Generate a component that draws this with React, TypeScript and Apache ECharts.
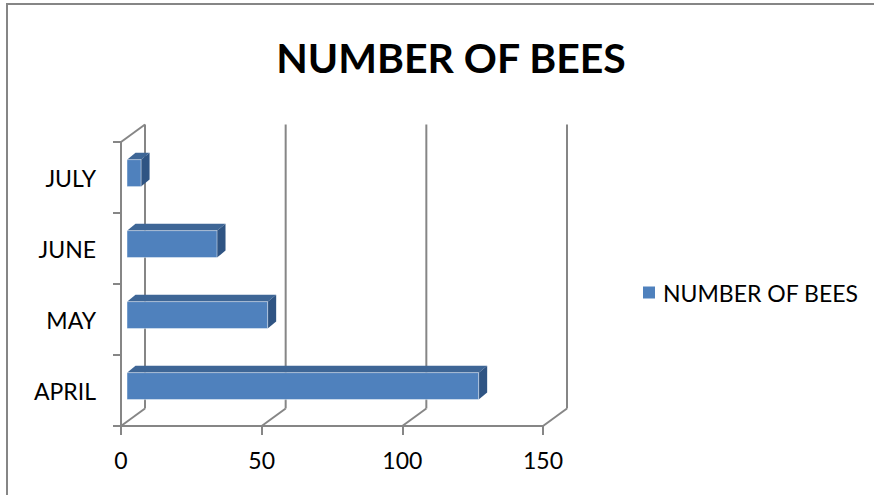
import React, { useEffect, useRef } from "react";
import * as echarts from "echarts";

const months = ["APRIL", "MAY", "JUNE", "JULY"];
const bees = [125, 50, 32, 5];
const xTicks = [0, 50, 100, 150];
const seriesName = "NUMBER OF BEES";
const titleText = "NUMBER OF BEES";

const FRONT = "#4F81BD";
const TOP = "#3E6696";
const SIDE = "#2F5483";
const GRID = "#868686";
const DX = 24;
const DY = -17.5;
const BX = 8.5;
const BY = -7;
const FONT = "Lato";

export default function App() {
  const ref = useRef<HTMLDivElement>(null);
  useEffect(() => {
    const chart = echarts.init(ref.current!, null, { renderer: "svg" });
    chart.setOption({
      animation: false,
      backgroundColor: "#fff",
      title: {
        text: titleText,
        left: 446,
        top: 32,
        textAlign: "center",
        textStyle: { fontFamily: FONT, fontWeight: "bold", fontSize: 41, color: "#000" },
      },
      legend: {
        data: [seriesName],
        left: 643,
        top: 281,
        padding: 0,
        icon: "rect",
        itemWidth: 12,
        itemHeight: 12,
        textStyle: { fontFamily: FONT, fontSize: 23, color: "#000", padding: [0, 0, 0, 3] },
      },
      grid: { left: 121, right: 331, top: 142, bottom: 69 },
      xAxis: {
        type: "value",
        min: 0,
        max: 150,
        interval: 50,
        axisLine: { show: true, lineStyle: { color: GRID, width: 2 } },
        axisTick: { show: true, length: 9, lineStyle: { color: GRID, width: 2 } },
        splitLine: { show: false },
        axisLabel: { fontFamily: FONT, fontSize: 23, color: "#000", margin: 22 },
      },
      yAxis: {
        type: "category",
        data: months,
        axisLine: { show: true, lineStyle: { color: GRID, width: 2 } },
        axisTick: { show: true, length: 8, lineStyle: { color: GRID, width: 2 } },
        splitLine: { show: false },
        axisLabel: { fontFamily: FONT, fontSize: 23, color: "#000", margin: 25 },
      },
      series: [
        {
          type: "custom",
          name: "frame",
          silent: true,
          z: 1,
          data: xTicks.map((v) => [v, 0]),
          encode: { x: 0, y: 1 },
          renderItem: (params: any, api: any) => {
            const v = api.value(0);
            const cs = params.coordSys;
            const x = api.coord([v, 0])[0];
            const yB = cs.y + cs.height;
            const yT = cs.y;
            const style = { stroke: GRID, lineWidth: 2 };
            const children: any[] = [
              { type: "line", shape: { x1: x, y1: yB, x2: x + DX, y2: yB + DY }, style },
              { type: "line", shape: { x1: x + DX, y1: yB + DY, x2: x + DX, y2: yT + DY }, style },
            ];
            if (v === 0) {
              children.push({ type: "line", shape: { x1: x, y1: yT, x2: x + DX, y2: yT + DY }, style });
            }
            return { type: "group", children };
          },
        },
        {
          type: "custom",
          name: seriesName,
          z: 5,
          itemStyle: { color: FRONT },
          data: bees.map((b, i) => [b, i]),
          encode: { x: 0, y: 1 },
          renderItem: (params: any, api: any) => {
            const v = api.value(0);
            const idx = api.value(1);
            const p0 = api.coord([0, idx]);
            const p1 = api.coord([v, idx]);
            const band = api.size([0, 1])[1];
            const d = 0.25;
            const x0 = p0[0] + DX * d;
            const x1 = p1[0] + DX * d;
            const yc = p0[1] + DY * d;
            const h = band * 0.38;
            const yt = yc - h / 2;
            const yb = yc + h / 2;
            return {
              type: "group",
              children: [
                {
                  type: "polygon",
                  shape: { points: [[x0, yt], [x1, yt], [x1 + BX, yt + BY], [x0 + BX, yt + BY]] },
                  style: { fill: TOP },
                },
                {
                  type: "polygon",
                  shape: { points: [[x1, yt], [x1 + BX, yt + BY], [x1 + BX, yb + BY], [x1, yb]] },
                  style: { fill: SIDE },
                },
                {
                  type: "rect",
                  shape: { x: x0, y: yt, width: x1 - x0, height: h },
                  style: { fill: FRONT, stroke: "rgba(255,255,255,0.45)", lineWidth: 1 },
                },
              ],
            };
          },
        },
      ],
      graphic: [
        {
          type: "rect",
          silent: true,
          z: -1,
          shape: { x: 7, y: 4, width: 1000, height: 1000 },
          style: { fill: "none", stroke: GRID, lineWidth: 2 },
        },
      ],
    });
    return () => chart.dispose();
  }, []);
  return (
    <div
      ref={ref}
      style={{ position: "fixed", left: 0, top: 0, width: 874, height: 495 }}
    />
  );
}
